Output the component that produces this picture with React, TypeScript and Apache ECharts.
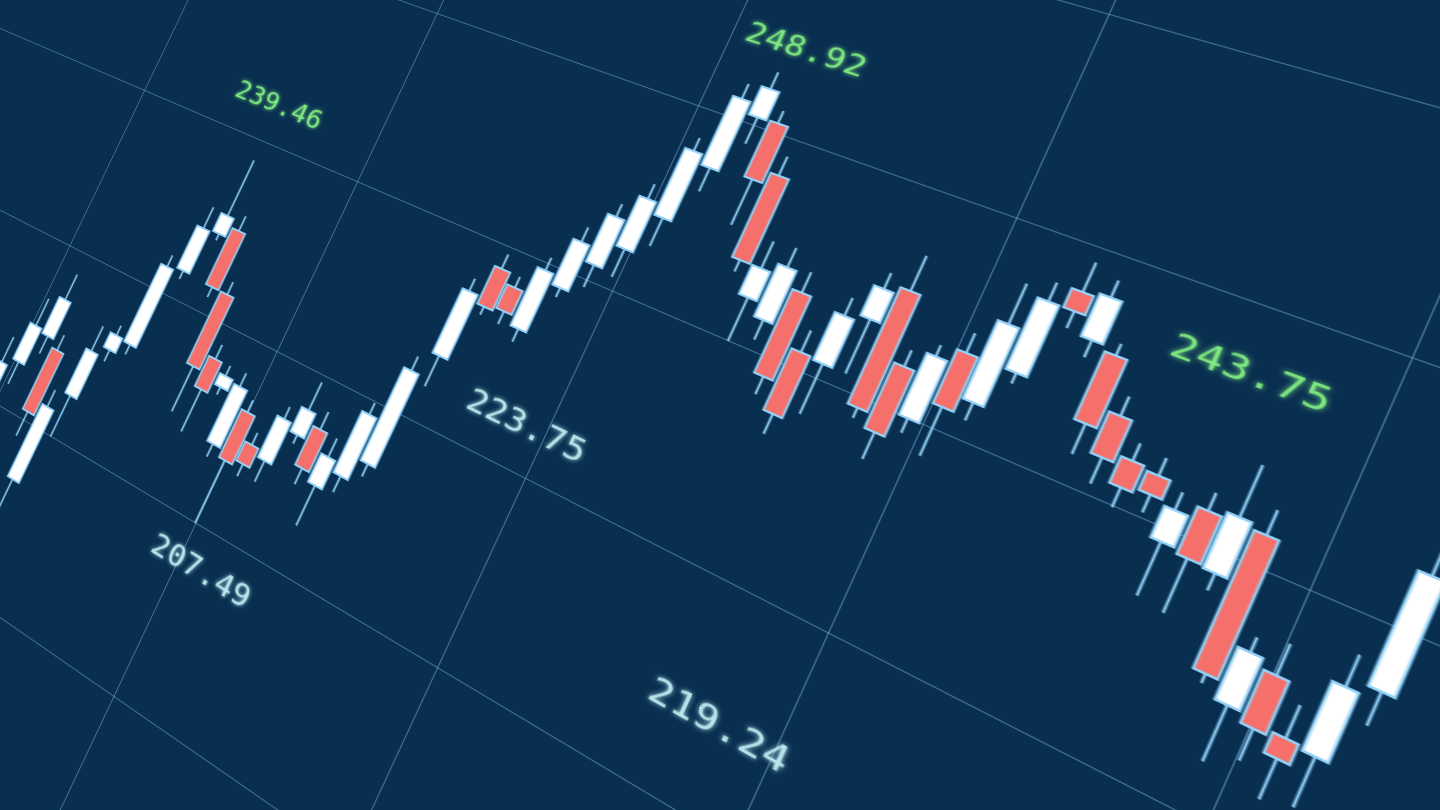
import { useEffect, useRef } from "react";
import * as echarts from "echarts";

// ---- Candle data (one candle per session, left to right) ----
const opens = [
  210.0, 212.7, 214.8, 214.35, 206.8, 212.5, 215.8, 216.6, 221.6, 224.3,
  224.9, 221.5, 218.1, 216.9, 214.05, 216.4, 215.0, 214.6, 216.6, 217.4,
  214.75, 215.8, 217.0, 223.5, 228.8, 228.2, 226.4, 229.1, 230.8, 232.1,
  234.2, 237.3, 240.4, 240.45, 238.1, 232.2, 231.5, 233.35, 230.8, 230.7,
  233.4, 235.25, 232.0, 229.95, 233.6, 231.7, 233.6, 237.9, 236.1, 235.85,
  233.55, 232.0, 231.85, 229.4, 231.3, 229.1, 231.3, 224.55, 226.4, 224.35,
  224.2, 227.5,
];
const closes = [
  212.2, 215.0, 217.1, 210.5, 211.3, 215.25, 216.7, 221.4, 224.2, 225.4,
  221.5, 217.2, 216.3, 217.55, 217.4, 213.6, 213.9, 217.0, 218.0, 215.2,
  216.35, 219.25, 222.2, 227.1, 226.7, 226.9, 229.6, 231.6, 233.4, 234.8,
  237.8, 241.0, 241.9, 237.5, 233.7, 233.7, 234.2, 229.1, 227.7, 233.1,
  234.9, 229.5, 228.8, 232.95, 231.0, 235.45, 237.0, 237.0, 238.1, 232.7,
  231.65, 230.8, 231.0, 230.8, 229.2, 231.55, 225.3, 226.8, 224.15, 223.5,
  227.1, 232.3,
];
const lows = [
  208.5, 211.3, 213.7, 209.0, 204.3, 209.95, 215.1, 216.0, 221.1, 223.9,
  220.9, 214.5, 213.8, 216.45, 213.3, 209.95, 213.2, 213.4, 216.1, 214.3,
  212.5, 214.9, 216.3, 221.8, 226.25, 226.2, 225.7, 228.6, 229.6, 230.6,
  232.7, 236.05, 239.0, 235.1, 233.1, 229.95, 230.5, 228.2, 226.7, 228.2,
  230.7, 229.0, 227.5, 229.25, 228.65, 230.85, 233.1, 236.2, 235.3, 231.3,
  230.45, 229.9, 230.2, 227.0, 226.8, 228.35, 224.9, 222.15, 222.8, 221.8,
  222.1, 226.1,
];
const highs = [
  213.8, 216.7, 218.7, 215.3, 212.35, 216.8, 217.3, 222.1, 225.5, 228.8,
  225.8, 222.25, 218.95, 218.15, 218.2, 217.1, 215.7, 217.7, 219.6, 218.4,
  217.4, 219.9, 223.0, 227.8, 229.6, 228.8, 230.3, 232.4, 234.1, 235.6,
  238.5, 241.8, 242.8, 241.1, 239.1, 235.1, 235.2, 234.4, 231.9, 234.0,
  235.7, 237.0, 232.8, 233.5, 234.55, 237.4, 237.9, 239.3, 238.9, 236.4,
  234.45, 232.8, 232.65, 231.6, 232.1, 233.85, 232.4, 227.45, 227.75, 225.75,
  228.45, 233.5,
];

// ---- Floating price annotations ----
const labelTexts = ["239.46", "248.92", "243.75", "223.75", "207.49", "219.24"];
const labelIdx = [6.1, 29.9, 50.6, 25.2, 13.3, 38.1];
const labelPrice = [232.2, 244.3, 237.2, 222.3, 208.0, 214.2];
const labelKind = ["up", "up", "up", "down", "down", "down"];

// ---- Price grid ----
const priceMin = 190;
const priceMax = 270;
const priceStep = 10;

// ---- layout (flat chart, then projected onto the tilted plane) ----
const FLAT_W = 1890;
const FLAT_H = 1600;
const IDX_PER_GRID = 14.286;
const IDX_OFFSET = 0.714;
const GRID_MIN = -1;
const GRID_MAX = 6;

const BG = "#082e50";
const GRID_COLOR = "rgba(125,178,225,0.5)";
const UP_FILL = "#ffffff";
const DOWN_FILL = "#f5706a";
const EDGE = "#92d2f8";
const UP_TEXT = "#8cff86";
const DOWN_TEXT = "#c8fbfc";

function projectiveMatrix(
  rect: [number, number, number, number],
  q: [number, number][]
): string {
  const [x0, y0] = q[0];
  const [x1, y1] = q[1];
  const [x2, y2] = q[2];
  const [x3, y3] = q[3];
  const dx1 = x1 - x2, dx2 = x3 - x2, dx3 = x0 - x1 + x2 - x3;
  const dy1 = y1 - y2, dy2 = y3 - y2, dy3 = y0 - y1 + y2 - y3;
  const den = dx1 * dy2 - dx2 * dy1;
  const g = (dx3 * dy2 - dx2 * dy3) / den;
  const h = (dx1 * dy3 - dx3 * dy1) / den;
  const a = x1 - x0 + g * x1, b = x3 - x0 + h * x3, c = x0;
  const d = y1 - y0 + g * y1, e = y3 - y0 + h * y3, f = y0;
  const [rx, ry, rw, rh] = rect;
  const H11 = a / rw, H12 = b / rh, H13 = c - (a * rx) / rw - (b * ry) / rh;
  const H21 = d / rw, H22 = e / rh, H23 = f - (d * rx) / rw - (e * ry) / rh;
  const H31 = g / rw, H32 = h / rh, H33 = 1 - (g * rx) / rw - (h * ry) / rh;
  return `matrix3d(${H11},${H21},0,${H31},${H12},${H22},0,${H32},0,0,1,0,${H13},${H23},0,${H33})`;
}

// flat rectangle between grid lines u=1..4, v=1..3 -> its screen quad
const MATRIX = projectiveMatrix(
  [540, 600, 810, 400],
  [
    [437, 13],
    [1412, 357],
    [1206, 825],
    [277, 351],
  ]
);

export default function App() {
  const ref = useRef<HTMLDivElement>(null);

  useEffect(() => {
    if (!ref.current) return;
    const chart = echarts.init(ref.current, null, { renderer: "svg" });
    const candleData = opens.map((o, i) => [i, o, closes[i], lows[i], highs[i]]);
    const labelData = labelTexts.map((t, i) => {
      const col = labelKind[i] === "up" ? UP_TEXT : DOWN_TEXT;
      return {
        name: t,
        value: [labelIdx[i], labelPrice[i]],
        label: {
          color: col,
          textShadowColor: col,
          textShadowBlur: 4,
          fontSize: labelKind[i] === "up" ? 29 : 32,
        },
      };
    });
    chart.setOption({
      animation: false,
      backgroundColor: "transparent",
      grid: { left: 0, right: 0, top: 0, bottom: 0, containLabel: false },
      xAxis: [
        {
          type: "value",
          min: GRID_MIN * IDX_PER_GRID + IDX_OFFSET,
          max: GRID_MAX * IDX_PER_GRID + IDX_OFFSET,
          show: false,
        },
        {
          type: "value",
          min: GRID_MIN,
          max: GRID_MAX,
          interval: 1,
          axisLine: { show: false },
          axisTick: { show: false },
          axisLabel: { show: false },
          splitLine: { show: true, lineStyle: { color: GRID_COLOR, width: 1 } },
        },
      ],
      yAxis: {
        type: "value",
        min: priceMin,
        max: priceMax,
        interval: priceStep,
        axisLine: { show: false },
        axisTick: { show: false },
        axisLabel: { show: false },
        splitLine: { show: true, lineStyle: { color: GRID_COLOR, width: 1 } },
      },
      series: [
        {
          type: "candlestick",
          xAxisIndex: 0,
          barWidth: 16.5,
          data: candleData,
          itemStyle: {
            color: UP_FILL,
            color0: DOWN_FILL,
            borderColor: EDGE,
            borderColor0: EDGE,
            borderWidth: 1.8,
          },
        },
        {
          type: "scatter",
          xAxisIndex: 0,
          symbolSize: 0,
          data: labelData,
          label: {
            show: true,
            position: "right",
            distance: 0,
            formatter: "{b}",
            fontFamily: "DejaVu Sans Mono",
          },
        },
      ],
    });
    return () => chart.dispose();
  }, []);

  return (
    <div
      style={{
        position: "fixed",
        left: 0,
        top: 0,
        width: 1440,
        height: 810,
        overflow: "hidden",
        background: BG,
      }}
    >
      <div
        ref={ref}
        style={{
          position: "absolute",
          left: 0,
          top: 0,
          width: FLAT_W,
          height: FLAT_H,
          transformOrigin: "0 0",
          transform: MATRIX,
        }}
      />
    </div>
  );
}
